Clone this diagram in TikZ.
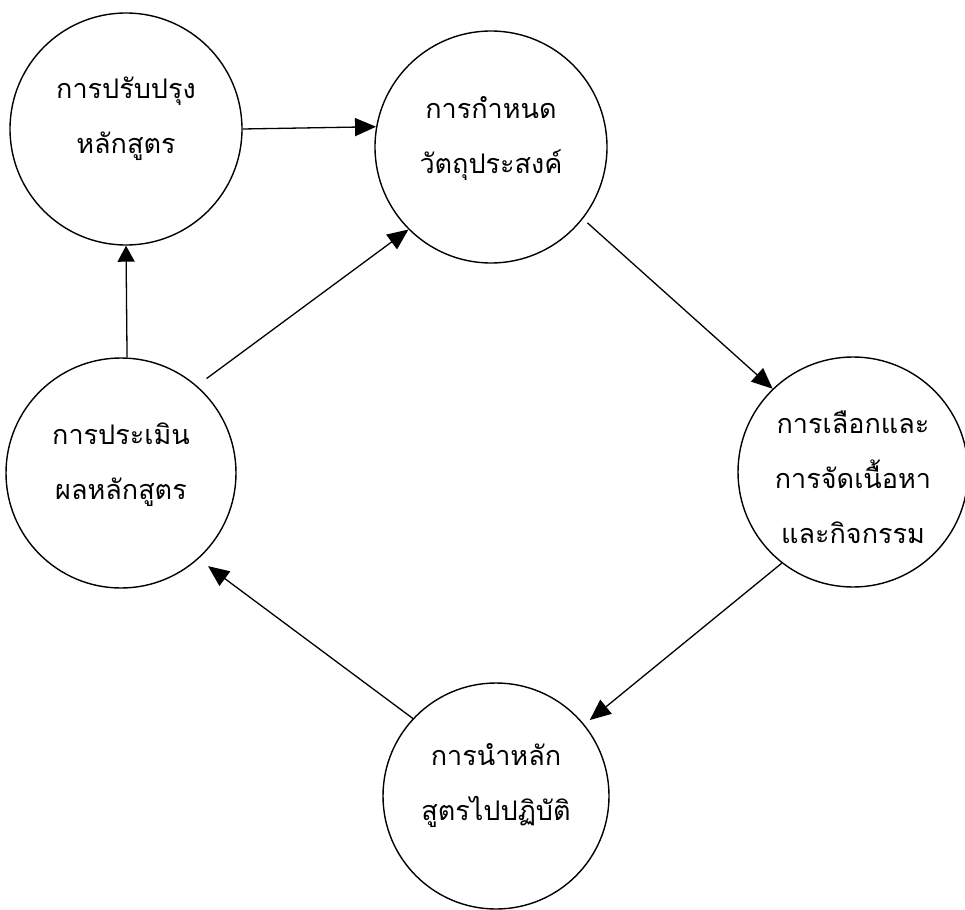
\documentclass[tikz,border=0pt]{standalone}
\usepackage{fontspec}
\newfontfamily\thaifont[Script=Thai]{Loma}
\usetikzlibrary{arrows.meta}
\begin{document}
\begin{tikzpicture}[x=1pt,y=-1pt,
  stage/.style={circle,draw=black,line width=1.4pt,inner sep=0pt,minimum size=#1},
  lbl/.style={align=center,font=\thaifont\fontsize{27}{55}\selectfont,inner sep=0pt},
  conn/.style={line width=1.3pt,-{Triangle[length=21pt,width=18pt]}},
  connsmall/.style={line width=1.3pt,-{Triangle[length=16pt,width=17pt]}}]
\useasboundingbox (0,0) rectangle (965,909);
\node[stage=232pt] (c1) at (126,129) {};
\node[stage=232pt] (c2) at (491,147) {};
\node[stage=230pt] (c3) at (853,472) {};
\node[stage=226pt] (c4) at (496,796) {};
\node[stage=230pt] (c5) at (121,473) {};
\node[lbl] (t1) at ([yshift=10pt]c1.center) {การปรับปรุง\\หลักสูตร};
\node[lbl] (t2) at ([yshift=8pt]c2.center) {การกำหนด\\วัตถุประสงค์};
\node[lbl] (t3) at ([yshift=-5pt]c3.center) {การเลือกและ\\การจัดเนื้อหา\\และกิจกรรม};
\node[lbl] (t4) at ([yshift=10pt]c4.center) {การนำหลัก\\สูตรไปปฏิบัติ};
\node[lbl] (t5) at ([yshift=8pt]c5.center) {การประเมิน\\ผลหลักสูตร};
\draw[conn] (c1.0) -- (c2.170);
\draw[connsmall] (c5.87) -- (c1.270);
\draw[conn,shorten <=12pt] (c5.49) -- (c2.225);
\draw[conn,shorten <=6pt] (c2.-38) -- (c3.134);
\draw[conn,shorten >=7pt] (c3.232) -- (c4.39);
\draw[conn,shorten >=12pt] (c4.137) -- (c5.-48);
\end{tikzpicture}
\end{document}
